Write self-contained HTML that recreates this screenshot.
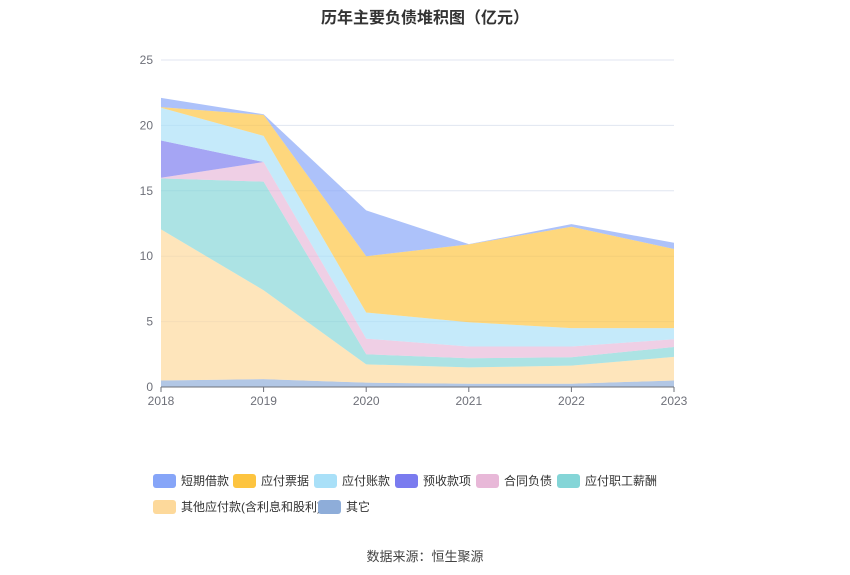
<!DOCTYPE html>
<html><head><meta charset="utf-8"><style>
body{margin:0;background:#fff;font-family:"Liberation Sans","Noto Sans CJK SC",sans-serif;}
#wrap{position:relative;width:850px;height:575px;overflow:hidden}
.lg{position:absolute;font-size:12px;color:#333;height:16px;line-height:16px;white-space:nowrap}
.lg span.b{display:inline-block;width:23px;height:14px;border-radius:3px;vertical-align:top;margin-right:5px;margin-top:1px}
</style></head><body>
<div id="wrap">
<div style="position:absolute;top:4px;width:850px;text-align:center;font-size:16px;font-weight:bold;color:#333">历年主要负债堆积图（亿元）</div>
<svg id="chart" width="850" height="575" style="position:absolute;left:0;top:0"></svg>
<div id="legend"></div>
<div style="position:absolute;top:546px;width:850px;text-align:center;font-size:13px;color:#444">数据来源：恒生聚源</div>
</div>
<script>
const years=["2018","2019","2020","2021","2022","2023"];
const seriesNames=["其它","其他应付款(含利息和股利)","应付职工薪酬","合同负债","预收款项","应付账款","应付票据","短期借款"];
const sOther=[0.5,0.6,0.33,0.25,0.25,0.5];
const sOtherPay=[11.55,6.8,1.4,1.25,1.38,1.8];
const sStaff=[3.9,8.3,0.77,0.7,0.64,0.76];
const sContract=[0.05,1.5,1.2,0.9,0.83,0.59];
const sAdvance=[2.85,0,0,0,0,0];
const sPayable=[2.5,2.0,2.0,1.85,1.4,0.85];
const sNotes=[0.05,1.6,4.3,5.95,7.75,6.05];
const sShort=[0.7,0.05,3.5,0.02,0.2,0.48];
const yTicks=[0,5,10,15,20,25];
const NS="http://www.w3.org/2000/svg";
const svg=document.getElementById('chart');
const x0=161,x1=674,yb=387,yt=60,ymax=25;
const X=i=>x0+(x1-x0)*i/(years.length-1);
const Y=v=>yb-(yb-yt)*v/ymax;
function mk(tag,attrs){const e=document.createElementNS(NS,tag);for(const k in attrs)e.setAttribute(k,attrs[k]);svg.appendChild(e);return e;}
yTicks.forEach(t=>{
  const l=mk('line',{x1:x0,x2:x1,y1:Y(t),y2:Y(t),stroke:t===0?'#6e7079':'#e0e6f1','stroke-width':1});
  
  
  const tx=mk('text',{x:153,y:Y(t)+4,'text-anchor':'end','font-size':12,fill:'#6e7079'});
  tx.textContent=t;
  
  
});
years.forEach((yr,i)=>{
  const tk=mk('line',{x1:X(i),x2:X(i),y1:yb,y2:yb+5,stroke:'#6e7079'});
  
  
  const tx=mk('text',{x:X(i),y:yb+18,'text-anchor':'middle','font-size':12,fill:'#6e7079'});
  tx.textContent=yr;
  
  
});
const series=[sOther,sOtherPay,sStaff,sContract,sAdvance,sPayable,sNotes,sShort];
const colors=["#8eadd9","#fdd99b","#84d5d7","#e8b8d8","#7a7bef","#a9e0f8","#fdc43f","#86a5f8"];
const keys=["other","other-payables","staff-pay","contract-liab","advance","accounts-payable","notes-payable","short-loan"];
const g=document.createElementNS(NS,'g');svg.insertBefore(g,svg.firstChild.nextSibling);
let base=years.map(()=>0);
series.forEach((s,k)=>{
  const top=base.map((b,i)=>b+s[i]);
  let d='M'+years.map((_,i)=>X(i)+','+Y(top[i])).join('L');
  for(let i=years.length-1;i>=0;i--)d+='L'+X(i)+','+Y(base[i]);
  d+='Z';
  const p=mk('path',{d:d,fill:colors[k],'fill-opacity':0.68,stroke:'none'});
  
  
  base=top;
});
// put axis line on top
const ax=mk('line',{x1:x0,x2:x1,y1:yb,y2:yb,stroke:'#6e7079'});


const legendItems=[["短期借款","#86a5f8",153,481],["应付票据","#fdc43f",233,481],["应付账款","#a9e0f8",314,481],["预收款项","#7a7bef",395,481],["合同负债","#e8b8d8",476,481],["应付职工薪酬","#84d5d7",557,481],["其他应付款(含利息和股利)","#fdd99b",153,507],["其它","#8eadd9",318,507]];
const lg=document.getElementById('legend');
legendItems.forEach(it=>{
  const d=document.createElement('div');
  d.className='lg';d.style.left=it[2]+'px';d.style.top=(it[3]-8)+'px';
  d.innerHTML='<span class="b" style="background:'+it[1]+'"></span>'+it[0];
  
  
  lg.appendChild(d);
});
</script>
</body></html>
